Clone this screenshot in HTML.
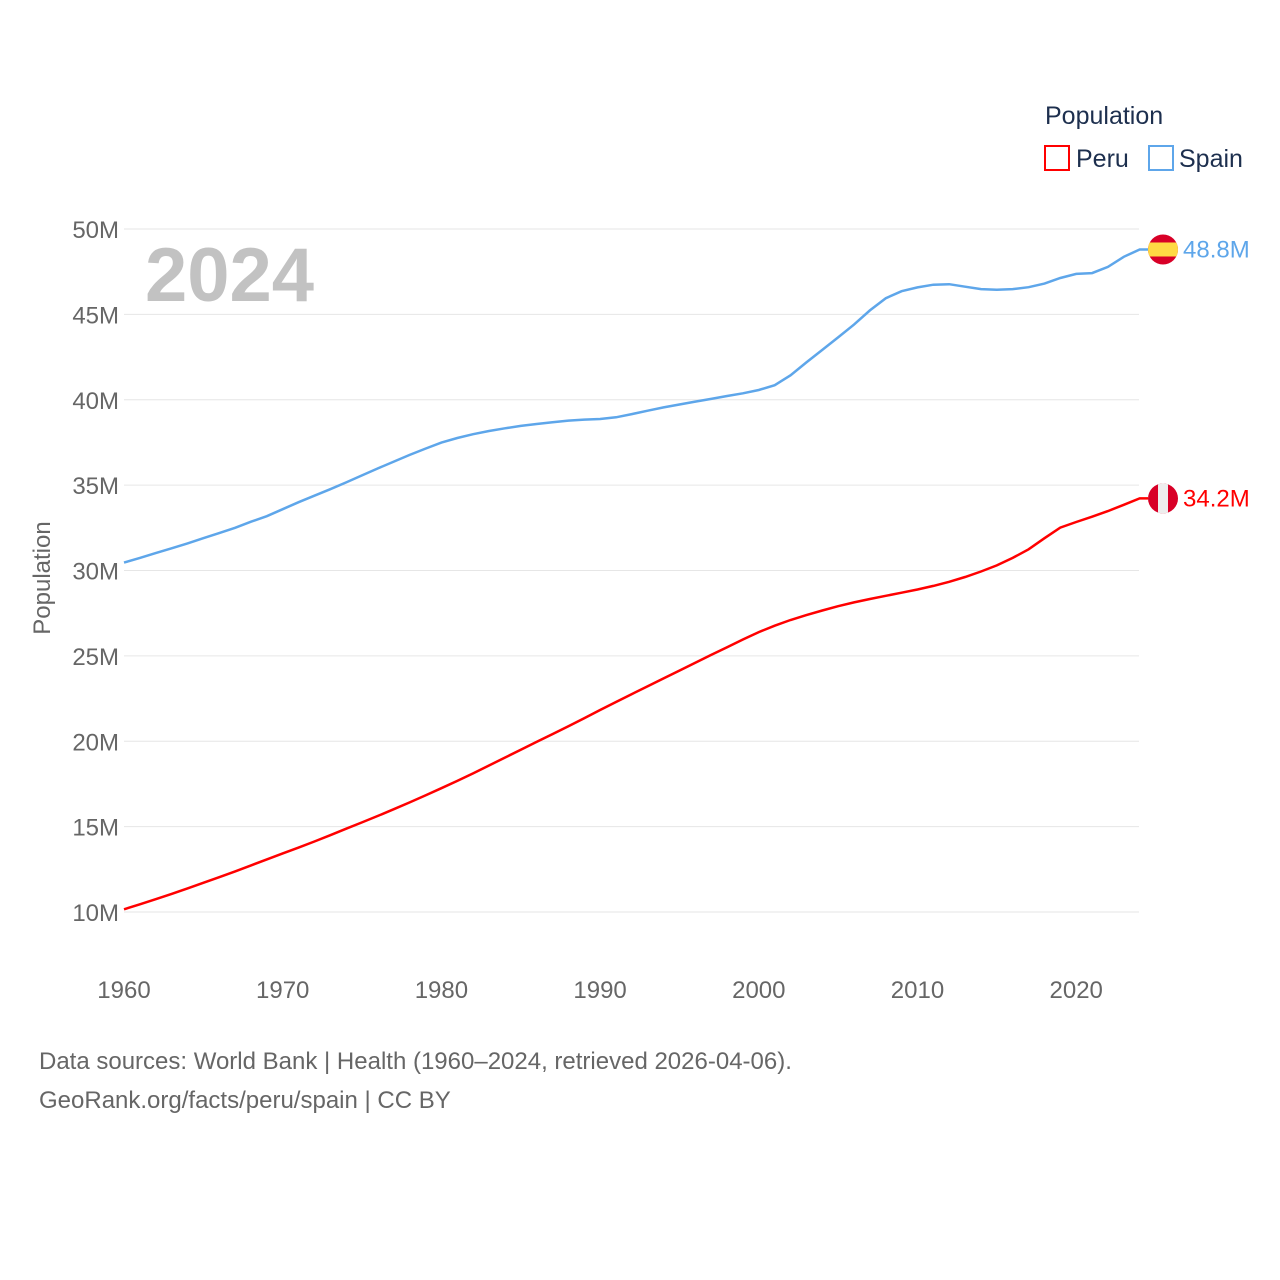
<!DOCTYPE html>
<html><head><meta charset="utf-8"><style>
body{margin:0;background:#fff;width:1280px;height:1280px;overflow:hidden;font-family:"Liberation Sans",sans-serif}
</style></head><body>
<svg width="1280" height="1280" style="position:absolute;left:0;top:0">
<g id="grid"></g>
<g id="yt"></g>
<g id="xt"></g>
<text x="145" y="301" font-size="76" font-weight="bold" fill="#c2c2c2">2024</text>
<text transform="translate(50,578) rotate(-90)" text-anchor="middle" font-size="24" fill="#666">Population</text>
<g id="lines"></g>
<g>
<text x="1045" y="124" font-size="25" fill="#1d2f4e">Population</text>
<rect x="1045" y="146" width="24" height="24" fill="none" stroke="#f00" stroke-width="2"/>
<text x="1076" y="167" font-size="25" fill="#1d2f4e">Peru</text>
<rect x="1149" y="146" width="24" height="24" fill="none" stroke="#5ea6ea" stroke-width="2"/>
<text x="1179" y="167" font-size="25" fill="#1d2f4e">Spain</text>
</g>
<text x="39" y="1069" font-size="24" fill="#666">Data sources: World Bank | Health (1960–2024, retrieved 2026-04-06).</text>
<text x="39" y="1108" font-size="24" fill="#666">GeoRank.org/facts/peru/spain | CC BY</text>
</svg>
<script>
const years=[];for(let y=1960;y<=2024;y++)years.push(y);
const spain=[30.46,30.74,31.02,31.30,31.59,31.89,32.19,32.50,32.86,33.18,33.59,34.00,34.38,34.76,35.16,35.57,35.98,36.38,36.77,37.14,37.49,37.76,37.98,38.17,38.33,38.47,38.58,38.68,38.78,38.84,38.87,38.97,39.16,39.36,39.55,39.72,39.89,40.05,40.22,40.38,40.57,40.85,41.43,42.19,42.92,43.65,44.40,45.23,45.95,46.36,46.58,46.74,46.77,46.62,46.48,46.44,46.48,46.59,46.80,47.13,47.37,47.42,47.78,48.37,48.8];
const peru=[10.16,10.45,10.75,11.06,11.38,11.71,12.04,12.38,12.73,13.08,13.43,13.77,14.13,14.50,14.88,15.25,15.63,16.02,16.42,16.83,17.25,17.68,18.12,18.58,19.04,19.50,19.96,20.42,20.88,21.35,21.83,22.30,22.76,23.22,23.68,24.14,24.60,25.06,25.51,25.96,26.39,26.77,27.10,27.39,27.66,27.91,28.13,28.33,28.52,28.70,28.89,29.10,29.34,29.62,29.94,30.30,30.74,31.24,31.89,32.51,32.84,33.15,33.48,33.85,34.22];
const yTicks=[10,15,20,25,30,35,40,45,50];
const xTicks=[1960,1970,1980,1990,2000,2010,2020];
const X=y=>124+(y-1960)*15.87, Y=v=>912-(v-10)*17.075;
const NS='http://www.w3.org/2000/svg';
function mk(t,a,p){const e=document.createElementNS(NS,t);for(const k in a)e.setAttribute(k,a[k]);p.appendChild(e);return e;}
const grid=document.getElementById('grid'),yt=document.getElementById('yt'),xt=document.getElementById('xt'),lines=document.getElementById('lines');
yTicks.forEach(v=>{
 const l=mk('line',{x1:124,x2:1139,y1:Y(v),y2:Y(v),stroke:'#e6e6e6','stroke-width':1},grid);
 
 
 const t=mk('text',{x:119,y:Y(v)+9,'text-anchor':'end','font-size':24,fill:'#666'},yt);t.textContent=v+'M';
 
 
});
xTicks.forEach(y=>{
 const t=mk('text',{x:X(y),y:998,'text-anchor':'middle','font-size':24,fill:'#666'},xt);t.textContent=y;
 
 
});
function series(data,color,name){
 const d=data.map((v,i)=>(i?'L':'M')+X(years[i]).toFixed(1)+','+Y(v).toFixed(1)).join('')+'H1148';
 const p=mk('path',{d:d,fill:'none',stroke:color,'stroke-width':2.5},lines);
 
 
 const last=data[data.length-1],cy=Y(last);
 const g=mk('g',{},lines);
 
 
 const cp=mk('clipPath',{id:'c'+name},g);mk('circle',{cx:1163,cy:cy,r:15},cp);
 const gg=mk('g',{'clip-path':'url(#c'+name+')'},g);
 if(name==='spain'){mk('rect',{x:1148,y:cy-15,width:30,height:30,fill:'#d80027'},gg);mk('rect',{x:1148,y:cy-7,width:30,height:14,fill:'#ffda44'},gg);}
 else{mk('rect',{x:1148,y:cy-15,width:30,height:30,fill:'#d80027'},gg);mk('rect',{x:1158,y:cy-15,width:10,height:30,fill:'#eee'},gg);}
 const t=mk('text',{x:1183,y:cy+8,'font-size':24,fill:color},lines);t.textContent=last.toFixed(1)+'M';
 
 
}
series(spain,'#5ea6ea','spain');
series(peru,'#ff0000','peru');
</script>
</body></html>
